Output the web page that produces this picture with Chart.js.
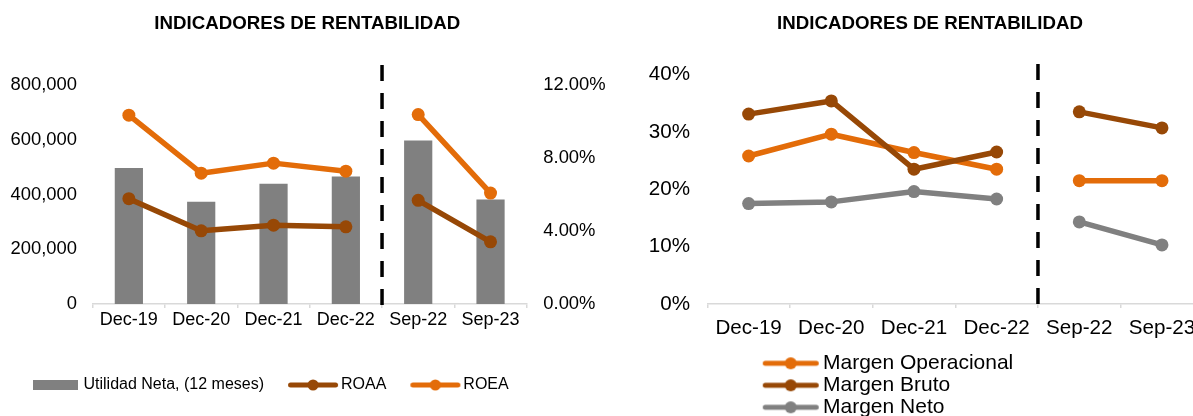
<!DOCTYPE html>
<html>
<head>
<meta charset="utf-8">
<script src="https://cdn.jsdelivr.net/npm/chart.js@4.4.0/dist/chart.umd.min.js"></script>
<style>
html, body { margin: 0; padding: 0; background: #fff; }
body { width: 1193px; height: 416px; overflow: hidden; position: relative; }
canvas { position: absolute; top: 0; }
#c1 { left: 0; }
#c2 { left: 600px; }
</style>
</head>
<body>
<canvas id="c1" width="608" height="416"></canvas>
<canvas id="c2" width="660" height="430"></canvas>
<script>
// ---- Data ----
const categories = ['Dec-19', 'Dec-20', 'Dec-21', 'Dec-22', 'Sep-22', 'Sep-23'];
const firstInterimIndex = 4; // first "Sep" period, separated by the dashed line

const utilidadNeta = [497000, 374000, 439000, 466000, 597000, 382000];
const roaa = [5.77, 4.01, 4.32, 4.23, 5.68, 3.41];
const roea = [10.35, 7.17, 7.72, 7.28, 10.38, 6.08];

const margenOperacional = [25.8, 29.6, 26.4, 23.5, 21.5, 21.5];
const margenBruto = [33.1, 35.4, 23.5, 26.5, 33.5, 30.7];
const margenNeto = [17.5, 17.8, 19.6, 18.3, 14.3, 10.3];

const leftAmountTicks = [0, 200000, 400000, 600000, 800000];
const leftPctTicks = [0, 4, 8, 12];
const rightPctTicks = [0, 10, 20, 30, 40];

const chartTitle = 'INDICADORES DE RENTABILIDAD';

// ---- Styles ----
const GRAY = '#808080';
const BROWN = '#974806';
const ORANGE = '#E36C09';
const AXIS = '#d9d9d9';

Chart.defaults.font.family = '"Liberation Sans", Arial, sans-serif';
Chart.defaults.color = '#000';

function boxSwatch(color, w, h) {
  const c = document.createElement('canvas');
  c.width = w; c.height = h;
  const g = c.getContext('2d');
  g.fillStyle = color;
  g.fillRect(0, 0, w, h);
  return c;
}
function lineSwatch(color, w, h, x0, x1, lw, r) {
  const c = document.createElement('canvas');
  c.width = w; c.height = h;
  const g = c.getContext('2d');
  g.strokeStyle = color;
  g.lineWidth = lw;
  g.lineCap = 'round';
  g.beginPath();
  g.moveTo(x0, h / 2);
  g.lineTo(x1, h / 2);
  g.stroke();
  g.fillStyle = color;
  g.beginPath();
  g.arc((x0 + x1) / 2, h / 2, r, 0, Math.PI * 2);
  g.fill();
  return c;
}

const gapSegment = {
  borderColor: ctx => (ctx.p1DataIndex === firstInterimIndex ? 'rgba(0,0,0,0)' : undefined)
};

const separatorPlugin = {
  id: 'separator',
  afterDatasetsDraw(chart, args, opts) {
    const x = chart.scales.x;
    const px = (x.getPixelForValue(opts.index - 1) + x.getPixelForValue(opts.index)) / 2;
    const ctx = chart.ctx;
    ctx.save();
    ctx.strokeStyle = '#000';
    ctx.lineWidth = opts.width;
    ctx.setLineDash(opts.dash);
    ctx.beginPath();
    ctx.moveTo(px, opts.top);
    ctx.lineTo(px, opts.bottom);
    ctx.stroke();
    ctx.restore();
  }
};

function swatchLabels(swatches) {
  return chart => chart.data.datasets.map((ds, i) => ({
    text: ds.label,
    pointStyle: swatches[i],
    fillStyle: 'rgba(0,0,0,0)',
    strokeStyle: 'rgba(0,0,0,0)',
    lineWidth: 0,
    hidden: false,
    fontColor: '#000',
    datasetIndex: i
  }));
}

// ---- Left chart ----
const leftSwatches = [
  boxSwatch(GRAY, 45, 10),
  lineSwatch(BROWN, 52, 14, 3.5, 48.5, 5, 5.5),
  lineSwatch(ORANGE, 52, 14, 3.5, 48.5, 5, 5.5)
];

new Chart(document.getElementById('c1'), {
  type: 'bar',
  data: {
    labels: categories,
    datasets: [
      { type: 'bar', label: 'Utilidad Neta, (12 meses)', data: utilidadNeta, backgroundColor: GRAY,
        yAxisID: 'y', order: 3, categoryPercentage: 1, barPercentage: 0.39 },
      { type: 'line', label: 'ROAA', data: roaa, borderColor: BROWN, backgroundColor: BROWN,
        pointBackgroundColor: BROWN, yAxisID: 'y1', order: 2, borderWidth: 5.5, pointRadius: 6.5,
        pointBorderWidth: 0, borderCapStyle: 'round', borderJoinStyle: 'round', segment: gapSegment },
      { type: 'line', label: 'ROEA', data: roea, borderColor: ORANGE, backgroundColor: ORANGE,
        pointBackgroundColor: ORANGE, yAxisID: 'y1', order: 1, borderWidth: 5.5, pointRadius: 6.5,
        pointBorderWidth: 0, borderCapStyle: 'round', borderJoinStyle: 'round', segment: gapSegment }
    ]
  },
  options: {
    responsive: false, animation: false, devicePixelRatio: 1, events: [],
    layout: { padding: { left: 6.5, right: 0, top: 0, bottom: 13 } },
    plugins: {
      title: { display: true, text: chartTitle, color: '#000', font: { size: 18.7, weight: 'bold' },
        padding: { top: 12.8, bottom: 49.8 } },
      legend: { position: 'bottom', align: 'start',
        labels: { usePointStyle: true, pointStyleWidth: 40, padding: 29, color: '#000',
          font: { size: 16 }, generateLabels: swatchLabels(leftSwatches) } },
      tooltip: { enabled: false },
      separator: { index: firstInterimIndex, top: 65, bottom: 305, width: 3.5, dash: [16, 12] }
    },
    scales: {
      x: { offset: true,
        grid: { offset: true, drawOnChartArea: false, drawTicks: true, tickLength: 4, color: AXIS, lineWidth: 1.5 },
        border: { color: AXIS, width: 1.5 },
        ticks: { color: '#000', font: { size: 18 }, padding: 1, maxRotation: 0, autoSkip: false },
        afterFit: s => { s.height = 44; } },
      y: { position: 'left', min: leftAmountTicks[0], max: leftAmountTicks[leftAmountTicks.length - 1],
        ticks: { stepSize: leftAmountTicks[1] - leftAmountTicks[0], color: '#000', font: { size: 18.4 }, padding: 15.7,
          callback: v => v.toLocaleString('en-US') },
        grid: { display: false, drawTicks: false }, border: { display: false },
        afterFit: s => { s.width = 86.2; } },
      y1: { position: 'right', min: leftPctTicks[0], max: leftPctTicks[leftPctTicks.length - 1],
        ticks: { stepSize: leftPctTicks[1] - leftPctTicks[0], color: '#000', font: { size: 18.4 }, padding: 16.6,
          callback: v => v.toFixed(2) + '%' },
        grid: { display: false, drawTicks: false }, border: { display: false },
        afterFit: s => { s.width = 81.3; } }
    }
  },
  plugins: [separatorPlugin]
});

// ---- Right chart ----
const rightSwatches = [
  lineSwatch(ORANGE, 226, 14, 171.5, 222.5, 5, 6),
  lineSwatch(BROWN, 226, 14, 171.5, 222.5, 5, 6),
  lineSwatch(GRAY, 226, 14, 171.5, 222.5, 5, 6)
];
const lineStyle = color => ({ borderColor: color, backgroundColor: color, pointBackgroundColor: color,
  borderWidth: 5.5, pointRadius: 6.5, pointBorderWidth: 0, borderCapStyle: 'round',
  borderJoinStyle: 'round', segment: gapSegment });

new Chart(document.getElementById('c2'), {
  type: 'line',
  data: {
    labels: categories,
    datasets: [
      Object.assign({ label: 'Margen Operacional', data: margenOperacional, order: 3 }, lineStyle(ORANGE)),
      Object.assign({ label: 'Margen Bruto', data: margenBruto, order: 2 }, lineStyle(BROWN)),
      Object.assign({ label: 'Margen Neto', data: margenNeto, order: 1 }, lineStyle(GRAY))
    ]
  },
  options: {
    responsive: false, animation: false, devicePixelRatio: 1, events: [],
    layout: { padding: { left: 0, right: 0, top: 0, bottom: 2.2 } },
    plugins: {
      title: { display: true, text: chartTitle, color: '#000', font: { size: 18.7, weight: 'bold' },
        padding: { top: 12.8, bottom: 39.3 } },
      legend: { position: 'bottom', align: 'start',
        labels: { usePointStyle: true, pointStyleWidth: 211.5, padding: 1, color: '#000',
          font: { size: 21 }, generateLabels: swatchLabels(rightSwatches) } },
      tooltip: { enabled: false },
      separator: { index: firstInterimIndex, top: 64, bottom: 304, width: 3.5, dash: [16, 12] }
    },
    scales: {
      x: { offset: true,
        grid: { offset: true, drawOnChartArea: false, drawTicks: true, tickLength: 4, color: AXIS, lineWidth: 1.5 },
        border: { color: AXIS, width: 1.5 },
        ticks: { color: '#000', font: { size: 20.6 }, padding: 8.2, maxRotation: 0, autoSkip: false },
        afterFit: s => { s.height = 47.8; } },
      y: { position: 'left', min: rightPctTicks[0], max: rightPctTicks[rightPctTicks.length - 1],
        ticks: { stepSize: rightPctTicks[1] - rightPctTicks[0], color: '#000', font: { size: 20.6 }, padding: 17.3,
          callback: v => v + '%' },
        grid: { display: false, drawTicks: false }, border: { display: false },
        afterFit: s => { s.width = 107.3; } },
      yR: { position: 'right', display: true, ticks: { display: false },
        grid: { display: false, drawTicks: false }, border: { display: false },
        afterFit: s => { s.width = 56.7; } }
    }
  },
  plugins: [separatorPlugin]
});
</script>
</body>
</html>
